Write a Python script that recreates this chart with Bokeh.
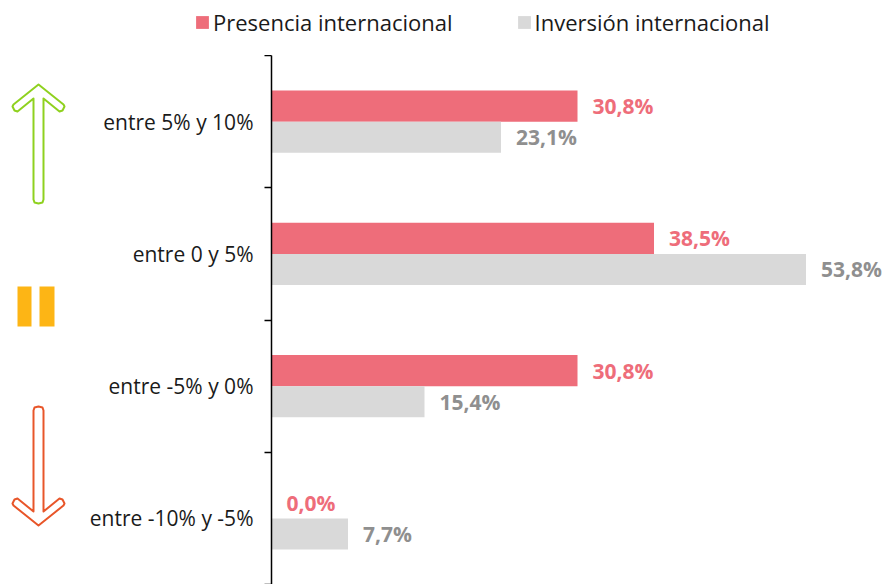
from bokeh.plotting import figure
from bokeh.models import ColumnDataSource, Range1d, FixedTicker, Legend, LegendItem
from bokeh.layouts import row, column
from bokeh.embed import file_html
from bokeh.resources import INLINE
from bokeh.core.properties import value

# ---------------- data ----------------
categories = ["entre 5% y 10%", "entre 0 y 5%", "entre -5% y 0%", "entre -10% y -5%"]
presencia = [30.8, 38.5, 30.8, 0.0]
inversion = [23.1, 53.8, 15.4, 7.7]
series_names = ["Presencia internacional", "Inversión internacional"]

# ---------------- styles ----------------
FONT = "Open Sans"
PINK = "#EE6D7A"
GRAY_BAR = "#D9D9D9"
GRAY_TXT = "#8F8F8F"
GREEN = "#8FD11F"
ORANGE = "#FDB515"
RED = "#E8562A"

W_LEFT, W_MAIN = 78, 806
W = W_LEFT + W_MAIN
H_LEG, H_MAIN = 55, 529
BAR_H = 0.235

n = len(categories)
centers = [n - i - 0.5 for i in range(n)]


def fmt(v):
    return f"{v:.1f}".replace(".", ",") + "%"


src = ColumnDataSource(dict(
    cat=categories,
    y_p=[c + BAR_H / 2 for c in centers],
    y_i=[c - BAR_H / 2 for c in centers],
    presencia=presencia,
    inversion=inversion,
    lab_p=[fmt(v) for v in presencia],
    lab_i=[fmt(v) for v in inversion],
))


def bare(fig):
    fig.outline_line_color = None
    fig.grid.visible = False
    fig.background_fill_color = None
    fig.border_fill_color = None
    return fig


# ---------------- main chart ----------------
p = bare(figure(width=W_MAIN, height=H_MAIN, output_backend="svg",
                toolbar_location=None, x_range=Range1d(0, 61.7),
                y_range=Range1d(0, n), min_border_left=193, min_border_right=0,
                min_border_top=0, min_border_bottom=0))
p.xaxis.visible = False

rp = p.hbar(y="y_p", left=0, right="presencia", height=BAR_H, source=src,
            fill_color=PINK, line_color=None)
ri = p.hbar(y="y_i", left=0, right="inversion", height=BAR_H, source=src,
            fill_color=GRAY_BAR, line_color=None)

p.text(x="presencia", y="y_p", text="lab_p", source=src, x_offset=15,
       text_align="left", text_baseline="middle", text_font=value(FONT),
       text_font_style="bold", text_font_size="21px", text_color=PINK)
p.text(x="inversion", y="y_i", text="lab_i", source=src, x_offset=15,
       text_align="left", text_baseline="middle", text_font=value(FONT),
       text_font_style="bold", text_font_size="21px", text_color=GRAY_TXT)

yax = p.yaxis[0]
yax.ticker = FixedTicker(ticks=centers, minor_ticks=list(range(n + 1)))
yax.major_label_overrides = {c: cat for c, cat in zip(centers, categories)}
yax.major_tick_in = 0
yax.major_tick_out = 0
yax.minor_tick_in = 0
yax.minor_tick_out = 7
yax.minor_tick_line_color = "#000000"
yax.minor_tick_line_width = 1.5
yax.axis_line_color = "#000000"
yax.axis_line_width = 1.5
yax.major_label_standoff = 11
yax.major_label_text_font = FONT
yax.major_label_text_font_size = "21px"
yax.major_label_text_color = "#1a1a1a"

# ---------------- legend strip ----------------
leg = bare(figure(width=W, height=H_LEG, output_backend="svg",
                  toolbar_location=None, x_range=Range1d(0, 1),
                  y_range=Range1d(0, 1), min_border=0))
leg.axis.visible = False
lp = leg.hbar(y=[0.5], left=0, right=1, height=1, fill_color=PINK,
              line_color=None, visible=False)
li = leg.hbar(y=[0.5], left=0, right=1, height=1, fill_color=GRAY_BAR,
              line_color=None, visible=False)
legend = Legend(items=[LegendItem(label=series_names[0], renderers=[lp]),
                       LegendItem(label=series_names[1], renderers=[li])],
                orientation="horizontal", location=(194, 18),
                glyph_width=16, glyph_height=16, label_standoff=3, spacing=63,
                padding=0, margin=0, border_line_color=None,
                background_fill_alpha=0, inactive_fill_alpha=0,
                label_text_font=FONT, label_text_font_size="22px",
                label_text_color="#1a1a1a")
leg.add_layout(legend, "center")

# ---------------- left decoration (trend icons) ----------------
left = bare(figure(width=W_LEFT, height=H_MAIN, output_backend="svg",
                   toolbar_location=None, x_range=Range1d(0, W_LEFT),
                   y_range=Range1d(H_LEG + H_MAIN, H_LEG), min_border=0))
left.axis.visible = False

arrow_x = [38, 63, 64, 62, 59, 43, 43, 42, 38, 34, 33, 33, 17, 14, 12, 13]
arrow_y = [84, 104, 106, 110, 111, 98, 199, 202, 203, 202, 199, 98, 111, 110, 106, 104]
left.patch(arrow_x, arrow_y, fill_color="white", line_color=GREEN, line_width=2,
           line_join="round")
left.patch(arrow_x, [609 - v for v in arrow_y], fill_color="white", line_color=RED,
           line_width=2, line_join="round")
left.quad(left=[17, 39], right=[31, 54], top=[286, 286], bottom=[326, 326],
          fill_color=ORANGE, line_color=None)

layout = column(leg, row(left, p))
open("out.html", "w").write(file_html(layout, INLINE))
